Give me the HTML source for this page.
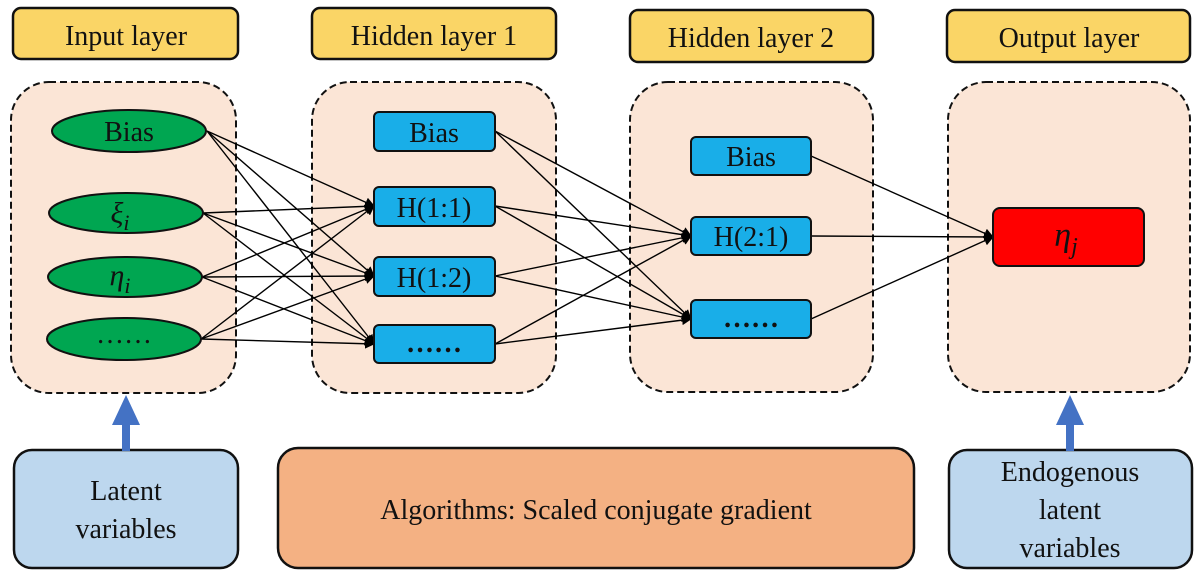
<!DOCTYPE html>
<html><head><meta charset="utf-8"><style>
body{margin:0;background:#fff;}
</style></head><body>
<svg width="1202" height="580" viewBox="0 0 1202 580" xmlns="http://www.w3.org/2000/svg" font-family="'Liberation Serif', 'Times New Roman', serif">
<defs>
<marker id="a" markerWidth="10" markerHeight="10" refX="9" refY="5" orient="auto" markerUnits="userSpaceOnUse"><path d="M0,0 L10,5 L0,10 z" fill="#000"/></marker>
</defs>
<g fill="#FAD566" stroke="#111" stroke-width="2.5">
<rect x="13" y="8" width="225" height="51" rx="8"/>
<rect x="312" y="8" width="244" height="51" rx="8"/>
<rect x="630" y="10" width="243" height="52" rx="8"/>
<rect x="947" y="10" width="243" height="52" rx="8"/>
</g>
<g font-size="28" text-anchor="middle" fill="#111" font-family="'Liberation Serif', serif">
<text x="126" y="45">Input layer</text>
<text x="434" y="45">Hidden layer 1</text>
<text x="751" y="47">Hidden layer 2</text>
<text x="1069" y="47">Output layer</text>
</g>
<g fill="#FBE5D6" stroke="#111" stroke-width="2" stroke-dasharray="7,4">
<rect x="11" y="82" width="225" height="311" rx="38"/>
<rect x="312" y="82" width="244" height="311" rx="38"/>
<rect x="630" y="82" width="243" height="310" rx="38"/>
<rect x="948" y="82" width="242" height="310" rx="38"/>
</g>
<g stroke="#000" stroke-width="1.4" marker-end="url(#a)">
<line x1="207" y1="131" x2="374" y2="206"/><line x1="207" y1="131" x2="374" y2="276"/><line x1="207" y1="131" x2="374" y2="344"/>
<line x1="203" y1="213" x2="374" y2="206"/><line x1="203" y1="213" x2="374" y2="276"/><line x1="203" y1="213" x2="374" y2="344"/>
<line x1="202" y1="277" x2="374" y2="206"/><line x1="202" y1="277" x2="374" y2="276"/><line x1="202" y1="277" x2="374" y2="344"/>
<line x1="201" y1="339" x2="374" y2="206"/><line x1="201" y1="339" x2="374" y2="276"/><line x1="201" y1="339" x2="374" y2="344"/>
<line x1="495" y1="131" x2="691" y2="236"/><line x1="495" y1="131" x2="691" y2="319"/>
<line x1="495" y1="206" x2="691" y2="236"/><line x1="495" y1="206" x2="691" y2="319"/>
<line x1="495" y1="276" x2="691" y2="236"/><line x1="495" y1="276" x2="691" y2="319"/>
<line x1="495" y1="344" x2="691" y2="236"/><line x1="495" y1="344" x2="691" y2="319"/>
<line x1="811" y1="156" x2="993" y2="237"/><line x1="811" y1="236" x2="993" y2="237"/><line x1="811" y1="319" x2="993" y2="237"/>
</g>
<g fill="#00A651" stroke="#111" stroke-width="2">
<ellipse cx="129" cy="131" rx="77" ry="21"/>
<ellipse cx="126" cy="213" rx="77" ry="20"/>
<ellipse cx="125" cy="277" rx="77" ry="20"/>
<ellipse cx="124" cy="339" rx="77" ry="21"/>
</g>
<g font-size="28" text-anchor="middle" fill="#111" font-family="'Liberation Serif', serif">
<text x="129" y="141">Bias</text>
<text x="120" y="223" font-style="italic" font-size="30">ξ<tspan font-size="22" dy="7">i</tspan></text>
<text x="120" y="285" font-style="italic" font-size="30">η<tspan font-size="22" dy="8">i</tspan></text>
<text x="124" y="343">……</text>
</g>
<g fill="#19AEE8" stroke="#111" stroke-width="2">
<rect x="374" y="112" width="121" height="39" rx="5"/>
<rect x="374" y="187" width="121" height="39" rx="5"/>
<rect x="374" y="257" width="121" height="39" rx="5"/>
<rect x="374" y="325" width="121" height="38" rx="5"/>
<rect x="691" y="137" width="120" height="38" rx="5"/>
<rect x="691" y="217" width="120" height="38" rx="5"/>
<rect x="691" y="300" width="120" height="38" rx="5"/>
</g>
<rect x="993" y="208" width="151" height="58" rx="7" fill="#FF0000" stroke="#111" stroke-width="2"/>
<g font-size="28" text-anchor="middle" fill="#111" font-family="'Liberation Serif', serif">
<text x="434" y="142">Bias</text>
<text x="434" y="217">H(1:1)</text>
<text x="434" y="287">H(1:2)</text>
<text x="434" y="352" font-weight="bold">……</text>
<text x="751" y="166">Bias</text>
<text x="751" y="246">H(2:1)</text>
<text x="751" y="327" font-weight="bold">……</text>
<text x="1066" y="246" font-style="italic" font-size="34">η<tspan font-size="24" dy="8">j</tspan></text>
</g>
<rect x="14" y="450" width="224" height="118" rx="18" fill="#BDD7EE" stroke="#111" stroke-width="2.5"/>
<rect x="278" y="448" width="636" height="120" rx="20" fill="#F4B183" stroke="#111" stroke-width="2.5"/>
<rect x="949" y="450" width="243" height="118" rx="18" fill="#BDD7EE" stroke="#111" stroke-width="2.5"/>
<g font-size="28" text-anchor="middle" fill="#111" font-family="'Liberation Serif', serif">
<text x="126" y="500">Latent</text>
<text x="126" y="538">variables</text>
<text x="596" y="519">Algorithms: Scaled conjugate gradient</text>
<text x="1070" y="481">Endogenous</text>
<text x="1070" y="519">latent</text>
<text x="1070" y="557">variables</text>
</g>
<g fill="#4472C4">
<rect x="122" y="424" width="8" height="27"/><path d="M112,425 L140,425 L126,395 z"/>
<rect x="1066" y="424" width="8" height="27"/><path d="M1056,425 L1084,425 L1070,395 z"/>
</g>
</svg>
</body></html>
